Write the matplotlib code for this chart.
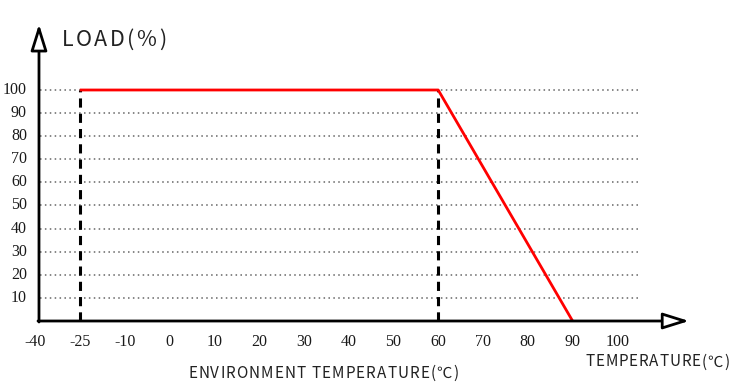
import numpy as np
import matplotlib
matplotlib.use("Agg")
from matplotlib import pyplot as plt

# Tick values on the x axis (evenly spaced labels, not a linear scale)
x_ticks = [-40, -25, -10, 0, 10, 20, 30, 40, 50, 60, 70, 80, 90, 100]
y_ticks = [10, 20, 30, 40, 50, 60, 70, 80, 90, 100]

# Derating curve
temp = [-25, 60, 90]
load = [100, 100, 0]

# Dashed reference lines
ref_temps = [-25, 60]


# Map a temperature to its position along the tick index axis
def TempToPos(t):
    return np.interp(t, x_ticks, np.arange(len(x_ticks)))


fig = plt.figure(figsize=(7.33, 3.9), dpi=100)
ax = fig.add_axes([0, 0, 1, 1])
ax.set_xlim(-0.781, 15.58)
ax.set_ylim(-29.87, 138.96)
ax.axis("off")
renderer = fig.canvas.get_renderer()


# Draw text letter by letter between two pixel x positions (y in pixels from top)
def SpacedText(s, left, right, ytop, size):
    font = dict(family=["Noto Sans CJK SC", "DejaVu Sans"], color="#222222",
                fontsize=size, va="center", ha="left")
    widths = []
    for ch in s:
        t = fig.text(0, 0, ch, **font)
        widths.append(t.get_window_extent(renderer).width)
        t.remove()
    gap = (right - left - sum(widths)) / (len(s) - 1)
    x = left
    for ch, w in zip(s, widths):
        fig.text(x / 733, 1 - ytop / 390, ch, **font)
        x += w + gap


px = 1 / 44.8   # one pixel in x data units
py = 1 / 2.31   # one pixel in y data units
x0 = 4 * px     # y axis position

# Dotted grid lines
for v in y_ticks:
    ax.plot([x0 + px, 13.5], [v, v], color="#666666", lw=1.1,
            linestyle=(0, (1, 2.2)), zorder=1)

# Dashed vertical lines
for t in ref_temps:
    p = TempToPos(t)
    ax.plot([p, p], [0, 100], color="black", lw=2.2,
            linestyle=(0, (3, 2)), zorder=2)

# Red derating curve
ax.plot(TempToPos(temp), load, color="#ff0000", lw=2, zorder=3,
        solid_capstyle="butt")

# Axes with hollow arrow heads
arrow = dict(arrowstyle="-|>,head_length=1.6,head_width=0.5",
             fc="white", ec="black", lw=2, shrinkA=0, shrinkB=0)
ax.annotate("", xy=(x0, 128.5), xytext=(x0, -1 * py), arrowprops=arrow,
            zorder=4)
ax.annotate("", xy=(14.6, 0), xytext=(x0 - px, 0), arrowprops=arrow,
            zorder=4)

# Tick labels
for i, t in enumerate(x_ticks):
    ax.text(i, -9.3, str(t), ha="center", va="center",
            family="Liberation Serif", fontsize=11.5, color="#1a1a1a")
for v in y_ticks:
    ax.text(-8 * px, v, str(v), ha="right", va="center",
            family="Liberation Serif", fontsize=11.5, color="#1a1a1a")

# Axis titles
SpacedText("LOAD(%)", 62, 166, 40, 15.5)
SpacedText("ENVIRONMENT TEMPERATURE(℃)", 188, 458, 373, 11)
SpacedText("TEMPERATURE(℃)", 585, 729, 362, 11)

fig.savefig("out.png", dpi=100)
